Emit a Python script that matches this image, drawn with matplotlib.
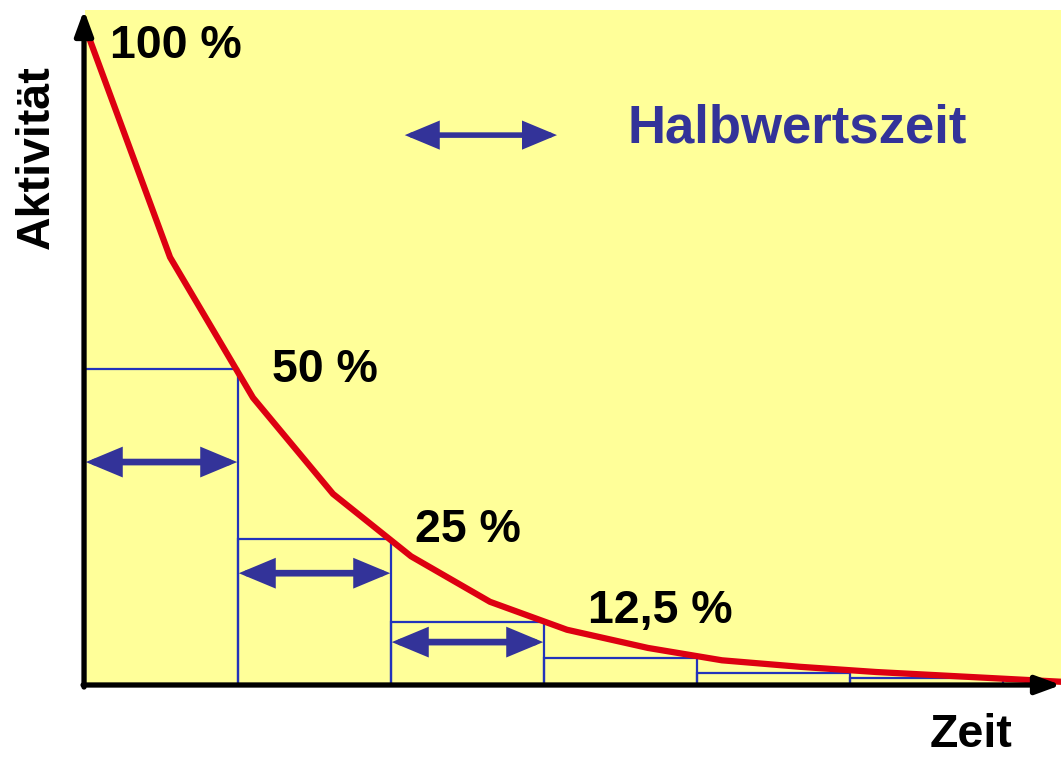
import matplotlib
matplotlib.use("Agg")
import matplotlib.pyplot as plt
from matplotlib.patches import Rectangle

plt.rcParams['font.family'] = ['Liberation Sans', 'DejaVu Sans']
plt.rcParams['font.weight'] = 'bold'

# Zeit in Halbwertszeiten, Aktivitaet in %
kurve_t = [0.02, 0.556, 1.098, 1.621, 2.131, 2.647, 3.150, 3.680, 4.163, 4.673, 5.170, 6.38]
kurve_a = [100, 65.8, 44.2, 29.4, 19.8, 12.8, 8.5, 5.7, 3.8, 2.8, 2.0, 0.5]

# Rechtecke je Halbwertszeit
rect_start = [0, 1, 2, 3, 4, 5]
rect_hoehe = [48.6, 22.4, 9.7, 4.2, 1.8, 1.1]
pfeil_hoehe = [34.3, 17.2, 6.6]

labels = ['100 %', '50 %', '25 %', '12,5 %']
label_t = [0.163, 1.222, 2.157, 3.288]
label_a = [96.5, 46.6, 22.0, 9.5]

gelb = '#FFFF99'
rot = '#DD0011'
blau = '#2233BB'
dunkelblau = '#333399'

fig = plt.figure(figsize=(10.61, 7.58), dpi=100)
ax = fig.add_axes([85 / 1061, 73 / 758, 976 / 1061, 675 / 758])
ax.set_facecolor(gelb)
ax.set_xlim(0, 976 / 153)
ax.set_ylim(0, 675 / 6.5)
for s in ax.spines.values():
    s.set_visible(False)
ax.set_xticks([])
ax.set_yticks([])

for x0, h in zip(rect_start, rect_hoehe):
    ax.add_patch(Rectangle((x0, 0), 1, h, fill=False, edgecolor=blau, lw=1.6, zorder=2))

ax.plot(kurve_t, kurve_a, color=rot, lw=4.5, zorder=3, solid_joinstyle='miter', clip_on=False)

pfeil = dict(arrowstyle='<|-|>,head_length=1.8,head_width=0.75', mutation_scale=10,
             color=dunkelblau, lw=4.8, shrinkA=0, shrinkB=0, joinstyle='miter')
for x0, y in zip(rect_start, pfeil_hoehe):
    ax.annotate('', xy=(x0 + 0.005, y), xytext=(x0 + 0.995, y), arrowprops=pfeil, zorder=4)

# Legende
ax.annotate('', xy=(2.09, 84.6), xytext=(3.085, 84.6),
            arrowprops=dict(pfeil, lw=4.0), zorder=4)
ax.text(3.549, 83.4, 'Halbwertszeit', color=dunkelblau, fontsize=38,
        fontweight='bold', va='baseline', ha='left')

for lab, t, a in zip(labels, label_t, label_a):
    ax.text(t, a, lab, fontsize=33.5, fontweight='bold', va='baseline', ha='left', zorder=5)

# Achsen mit Pfeilen
achse = dict(arrowstyle='-|>,head_length=1.5,head_width=0.55', mutation_scale=10,
             color='black', lw=3.8, shrinkA=0, shrinkB=0)
ax.annotate('', xy=(1.0, 0), xytext=(-0.002, 0), xycoords='axes fraction',
            arrowprops=achse, annotation_clip=False, zorder=6)
ax.annotate('', xy=(-0.001, 1.0), xytext=(-0.001, -0.003), xycoords='axes fraction',
            arrowprops=achse, annotation_clip=False, zorder=6)

fig.text(930 / 1061, 11 / 758, 'Zeit', fontsize=33.5, fontweight='bold', ha='left', va='baseline')
fig.text(36.5 / 1061, 1 - 157 / 758, 'Aktivität', fontsize=33.5, fontweight='bold',
         rotation=90, ha='center', va='center')

fig.savefig('out.png', dpi=100)
